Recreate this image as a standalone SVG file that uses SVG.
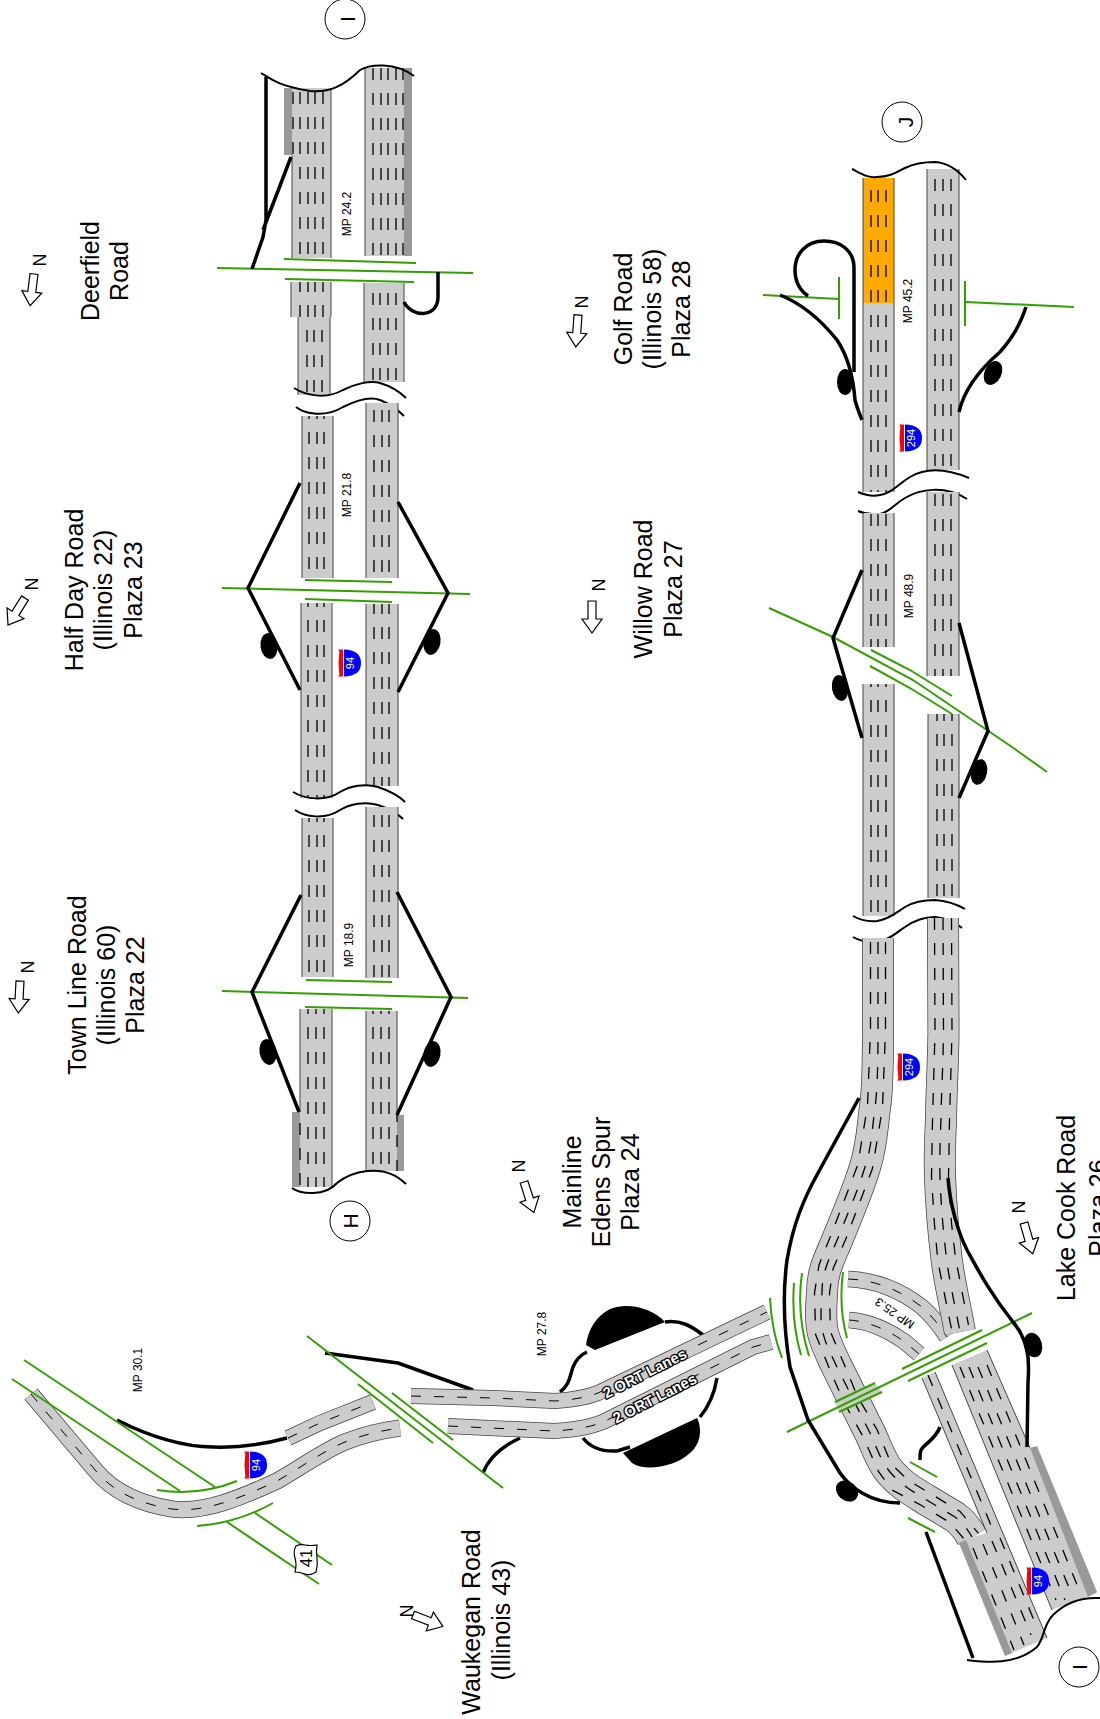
<svg xmlns="http://www.w3.org/2000/svg" width="1100" height="1719" viewBox="0 0 1100 1719">
<style>
text{font-family:"Liberation Sans",Arial,sans-serif;fill:#000}
.l{font-size:25px;text-anchor:middle}
.mp{font-size:12px;text-anchor:middle}
.n{font-size:18px;text-anchor:middle}
.c{font-size:21px;text-anchor:middle}
.s{font-size:11px;text-anchor:middle;fill:#fff}
.o{font-size:15px;font-weight:bold;fill:#fff;stroke:#000;stroke-width:2.6px;paint-order:stroke;text-anchor:middle}
.r{fill:#ccc}
.sh{fill:#999}
.e{fill:none;stroke:#444;stroke-width:1}
.d{fill:none;stroke:#000;stroke-width:1.3;stroke-dasharray:12 13}
.d2{fill:none;stroke:#000;stroke-width:1;stroke-dasharray:10 13}
.g{fill:none;stroke:#33a000;stroke-width:2}
.b{fill:none;stroke:#000;stroke-width:3.5}
.w{fill:none;stroke:#000;stroke-width:2}
.bl{fill:#000}
.a{fill:#fff;stroke:#000;stroke-width:1.2}
.ci{fill:#fff;stroke:#000;stroke-width:1}
.ro{fill:none;stroke:#444}
.rg{fill:none;stroke:#ccc}
</style>
<defs>
<g id="shield">
<path d="M0,-13.5Q17,-13 17,0Q17,13 0,13.5Z" fill="#00f"/>
<path d="M-6,-13.5H-1V13.5H-6Q-4,12 -5,8Q-6,0 -5,-8Q-4,-12 -6,-13.5Z" fill="#f00"/>
</g>
<polygon id="arrow" points="-4,0 4,0 4,18 10,18 0,32 -10,18 -4,18"/>
</defs>

<g id="deerfield">
<rect class="sh" x="284" y="88" width="8" height="67"/>
<rect class="r" x="292" y="88" width="39" height="170"/>
<rect class="r" x="291" y="282" width="40" height="35"/>
<rect class="r" x="298" y="317" width="32" height="78"/>
<rect class="r" x="365" y="68" width="39" height="188"/>
<rect class="sh" x="404" y="68" width="8" height="188"/>
<rect class="r" x="364" y="283" width="40" height="99"/>
<path class="e" d="M292,155V258M331,88V258M291,282V317M331,282V317M298,317V395M330,317V395M365,68V256M364,283V382M404,283V382"/>
<path class="d" d="M293,92V155M300,92V258M308,92V258M315,92V258M323,92V258"/>
<path class="d" d="M300,282V317M308,282V317M315,282V317M323,282V317" stroke-dashoffset="2"/>
<path class="d" d="M307,330V395M314,330V395M322,330V395"/>
<path class="d" d="M373,68V256M381,68V256M388,68V256M396,68V256M403,68V256"/>
<path class="d" d="M373,293V382M380,293V382M388,293V382M396,293V382"/>
<path class="g" d="M217,268L473,273M284,259L416,263M285,279L414,282"/>
<path class="b" d="M266,77V220L263,237L252,269M291,157L263,230M438,272V297C438,318 412,318 404,302"/>
<path class="w" d="M261,73C270,78 275,85 310,91C330,93 345,85 360,70C370,64 395,62 414,76"/>
<path class="w" d="M294,388C305,395 325,400 343,390C355,384 370,380 380,383C390,386 400,392 406,398"/>
<path class="w" d="M296,407C305,414 325,418 343,407C355,401 370,396 380,400C390,404 398,410 404,416"/>
<text class="mp" transform="translate(351,214) rotate(-90)">MP 24.2</text>
</g>

<g id="halfday">
<rect class="r" x="302" y="416" width="31" height="162"/>
<rect class="r" x="366" y="403" width="32" height="175"/>
<rect class="r" x="301" y="603" width="31" height="195"/>
<rect class="r" x="366" y="604" width="32" height="182"/>
<path class="e" d="M302,416V578M333,416V578M366,403V578M398,403V578M301,603V798M332,603V798M366,604V786M398,604V786"/>
<path class="d" d="M309,416V578M317,416V578M324,416V578" stroke-dashoffset="9"/>
<path class="d" d="M374,403V578M382,403V578M389,403V578" stroke-dashoffset="18"/>
<path class="d" d="M308,603V798M317,603V798M324,603V798" stroke-dashoffset="8"/>
<path class="d" d="M374,604V786M382,604V786M389,604V786" stroke-dashoffset="2"/>
<path class="g" d="M222,588L470,594M305,580L392,582M305,599L392,602"/>
<path class="b" d="M300,483L248,588L300,690M398,502L448,593L398,692"/>
<ellipse class="bl" cx="269" cy="646" rx="8.5" ry="13" transform="rotate(-8 269 646)"/>
<ellipse class="bl" cx="432" cy="642" rx="8.5" ry="13" transform="rotate(10 432 642)"/>
<path class="w" d="M293,792C305,799 325,802 340,792C350,786 365,783 378,787C390,791 400,797 405,802"/>
<path class="w" d="M295,810C305,817 325,820 340,810C350,804 365,801 378,805C390,809 398,814 403,819"/>
<use href="#shield" x="344" y="663"/>
<text class="s" transform="translate(354,663) rotate(-90)">94</text>
<text class="mp" transform="translate(351,495) rotate(-90)">MP 21.8</text>
</g>

<g id="townline">
<rect class="r" x="302" y="818" width="31" height="159"/>
<rect class="r" x="366" y="807" width="32" height="171"/>
<rect class="r" x="300" y="1009" width="32" height="178"/>
<rect class="sh" x="292" y="1112" width="8" height="75"/>
<rect class="r" x="366" y="1011" width="31" height="160"/>
<rect class="sh" x="397" y="1115" width="7" height="56"/>
<path class="e" d="M302,818V977M333,818V977M366,807V978M398,807V978M300,1009V1112M332,1009V1187M366,1011V1171M397,1011V1115"/>
<path class="d" d="M309,818V977M317,818V977M324,818V977" stroke-dashoffset="8"/>
<path class="d" d="M374,807V978M382,807V978M389,807V978" stroke-dashoffset="17"/>
<path class="d" d="M308,1009V1187M316,1009V1187M324,1009V1187" stroke-dashoffset="7"/>
<path class="d" d="M300,1112V1187" stroke-dashoffset="14"/>
<path class="d" d="M373,1011V1171M381,1011V1171M389,1011V1171" stroke-dashoffset="9"/>
<path class="d" d="M397,1115V1171" stroke-dashoffset="5"/>
<path class="g" d="M222,991L468,998M306,980L392,982M305,1007L392,1009"/>
<path class="b" d="M301,895L252,992L299,1112M397,892L451,997L397,1115"/>
<ellipse class="bl" cx="268" cy="1052" rx="8.5" ry="13" transform="rotate(-10 268 1052)"/>
<ellipse class="bl" cx="432" cy="1054" rx="8.5" ry="13" transform="rotate(10 432 1054)"/>
<path class="w" d="M292,1188C300,1194 325,1197 337,1183C347,1175 358,1172 367,1171C385,1169 398,1176 406,1184"/>
<text class="mp" transform="translate(353,945) rotate(-90)">MP 18.9</text>
</g>

<g id="golf">
<rect x="863" y="178" width="31" height="125" fill="#fa0"/>
<rect class="r" x="863" y="303" width="31" height="189"/>
<rect class="r" x="927" y="169" width="32" height="301"/>
<path class="e" d="M863,178V492M894,178V492M927,169V470M959,169V470"/>
<path class="d" d="M871,178V492M878,178V492M886,178V492" stroke-dashoffset="13"/>
<path class="d" d="M935,169V470M943,169V470M951,169V470" stroke-dashoffset="15"/>
<path class="g" d="M763,295L839,299M839,277V319M965,281V326M966,302L1074,307"/>
<path class="b" d="M854,372V268C854,250 840,241 824,241C806,241 795,254 795,270C795,282 801,291 808,296"/>
<path class="b" d="M780,295C805,305 825,325 837,340C847,355 853,373 855,400C857,408 860,415 862,420M1026,307C1020,325 1013,337 1000,352C985,365 965,385 959,412"/>
<ellipse class="bl" cx="845" cy="382" rx="8" ry="13"/>
<ellipse class="bl" cx="993" cy="373" rx="8.5" ry="12.5" transform="rotate(25 993 373)"/>
<path class="w" d="M852,169C862,174 868,178 877,177C890,177 897,172 905,168C915,163 925,162 935,162C948,163 958,170 966,180"/>
<path class="w" d="M858,492C865,495 872,497 880,495C892,493 897,485 910,477C925,468 945,468 969,478"/>
<path class="w" d="M858,511C865,514 872,515 880,514C890,512 893,505 905,498C920,489 945,485 967,499"/>
<use href="#shield" x="905" y="438"/>
<text class="s" transform="translate(915,438) rotate(-90)">294</text>
<text class="mp" transform="translate(912,301) rotate(-90)">MP 45.2</text>
</g>

<g id="willow">
<rect class="r" x="863" y="513" width="31" height="134"/>
<rect class="r" x="863" y="684" width="31" height="232"/>
<rect class="r" x="927" y="492" width="32" height="184"/>
<rect class="r" x="928" y="714" width="31" height="184"/>
<path class="e" d="M863,513V647M894,513V647M863,684V916M894,684V916M927,492V676M959,492V676M928,714V898M959,714V898"/>
<path class="d" d="M871,513V647M878,513V647M886,513V647" stroke-dashoffset="24"/>
<path class="d" d="M871,684V916M878,684V916M886,684V916" stroke-dashoffset="9"/>
<path class="d" d="M935,492V676M943,492V676M951,492V676" stroke-dashoffset="23"/>
<path class="d" d="M937,714V898M944,714V898M952,714V898" stroke-dashoffset="5"/>
<path class="g" d="M769,608L833,637L913,680L1012,747L1047,772M871,650L910,670L952,696M870,666L910,688L952,714"/>
<path class="b" d="M862,570L833,638L862,738M959,623L988,731L959,798"/>
<ellipse class="bl" cx="840" cy="688" rx="8" ry="13" transform="rotate(-10 840 688)"/>
<ellipse class="bl" cx="979" cy="772" rx="8" ry="13" transform="rotate(12 979 772)"/>
<path class="w" d="M853,916C860,920 868,922 877,921C890,919 897,912 905,907C915,901 925,900 935,900C948,901 958,905 965,909"/>
<path class="w" d="M853,937C860,941 868,943 877,942C890,940 897,932 905,927C915,920 925,917 935,917C948,918 956,923 962,928"/>
<text class="mp" transform="translate(913,596) rotate(-90)">MP 48.9</text>
</g>

<g id="lakecook">
<path class="ro" stroke-width="16.5" d="M848,1279C875,1280 900,1290 922,1307C930,1314 940,1326 947,1337M849,1320C865,1321 885,1328 905,1342L919,1354"/>
<path class="rg" stroke-width="15" d="M848,1279C875,1280 900,1290 922,1307C930,1314 940,1326 947,1337M849,1320C865,1321 885,1328 905,1342L919,1354"/>
<path class="d2" d="M848,1279C875,1280 900,1290 922,1307C930,1314 940,1326 947,1337M849,1320C865,1321 885,1328 905,1342L919,1354"/>
<path class="ro" stroke-width="32" d="M878,938V1030C878,1070 877,1095 875,1107C872,1130 872,1145 865,1167C858,1190 850,1208 840,1233C830,1258 822,1270 822,1293C821,1310 820,1320 823,1333C826,1345 830,1352 837,1367L870,1433C876,1445 880,1460 890,1472C900,1484 912,1491 925,1499L955,1517C962,1522 968,1530 972,1537"/>
<path class="rg" stroke-width="30.5" d="M878,938V1030C878,1070 877,1095 875,1107C872,1130 872,1145 865,1167C858,1190 850,1208 840,1233C830,1258 822,1270 822,1293C821,1310 820,1320 823,1333C826,1345 830,1352 837,1367L870,1433C876,1445 880,1460 890,1472C900,1484 912,1491 925,1499L955,1517C962,1522 968,1530 972,1537"/>
<path class="d" stroke-dashoffset="21" d="M878,938V1030C878,1070 877,1095 875,1107C872,1130 872,1145 865,1167C858,1190 850,1208 840,1233C830,1258 822,1270 822,1293C821,1310 820,1320 823,1333C826,1345 830,1352 837,1367L870,1433C876,1445 880,1460 890,1472C900,1484 912,1491 925,1499L955,1517C962,1522 968,1530 972,1537"/>
<path class="d" stroke-dashoffset="21" d="M870.5,938V1030L867.5,1106L857.7,1165L833,1230L819,1265L814.5,1293L815.6,1334.5L830,1370L844.3,1403L863,1436.5L878.6,1471.7L892,1490L920.7,1505L950,1522.6L965.6,1540.7"/>
<path class="d" stroke-dashoffset="21" d="M885.5,938V1030L882.5,1108L872.3,1169L847,1236L833,1269L829.5,1293L830.4,1331.5L844,1364L857.7,1397L877,1429.5L891.4,1464.3L908,1480L929.3,1493L960,1511.4L978.4,1533.3"/>
<polygon class="r" points="835,1402 875,1383 882,1392 839,1412"/>
<path class="ro" stroke-width="32" d="M943,918L943.5,1033C943,1070 941,1100 941,1120C940,1140 939.5,1160 940,1177C941,1205 943,1230 946.7,1260C950,1285 955,1305 960,1332"/>
<path class="rg" stroke-width="30.5" d="M943,918L943.5,1033C943,1070 941,1100 941,1120C940,1140 939.5,1160 940,1177C941,1205 943,1230 946.7,1260C950,1285 955,1305 960,1332"/>
<path class="d" d="M943,918L943.5,1033C943,1070 941,1100 941,1120C940,1140 939.5,1160 940,1177C941,1205 943,1230 946.7,1260C950,1285 955,1305 960,1332"/>
<path class="d" d="M934.5,918L935,1033L932.5,1120L931.5,1177L934.5,1225L938,1262L951.5,1329"/>
<path class="d" d="M951.5,918L952,1033L949.5,1120L948.5,1177L951.5,1223L955.5,1258L968.5,1325"/>
<polygon class="r" points="922,1378 935,1372 1047,1638 1005,1656 959,1543 972,1537 987,1533"/>
<polygon class="sh" points="959,1543 966,1540 1012,1653 1005,1656"/>
<polygon class="r" points="952,1365 987,1350 1030,1448 1097,1593 1052,1610"/>
<polygon class="sh" points="1030,1448 1037,1446 1097,1592 1088,1597"/>
<path class="e" d="M922,1378L987,1533M935,1372L1047,1638M952,1365L1052,1610M987,1350L1030,1448"/>
<path class="d" d="M928,1375L993,1530"/>
<path class="d" d="M973,1548L1014,1650M983,1544L1024,1645M992,1541L1031,1635M1000,1538L1038,1630"/>
<path class="d" d="M960,1367L1056,1600M969,1367L1065,1600M978,1367L1072,1595M987,1365L1080,1592"/>
<path class="g" d="M787,1432L1032,1313M835,1402L875,1383M839,1412L882,1392M902,1369L982,1330M908,1381L987,1343M802,1273C798,1300 801,1330 809,1356M794,1283C792,1310 795,1335 801,1355M843,1272C840,1295 842,1320 847,1338M770,1298C771,1320 775,1340 782,1358M910,1462L937,1477M908,1518L935,1532"/>
<path class="b" d="M948,1178C950,1205 958,1232 967,1250C978,1270 990,1293 1013,1322C1020,1330 1026,1342 1028,1357C1029,1370 1028,1382 1028,1382L1027,1447"/>
<path class="b" d="M859,1098L818,1173C803,1200 793,1225 787,1260C783,1290 783,1325 790,1367L808,1420L840,1473C850,1487 870,1503 900,1503"/>
<path class="b" d="M926,1532L973,1658"/>
<path class="b" d="M940,1427C935,1440 925,1443 921,1450C920,1453 920,1457 920,1460"/>
<ellipse class="bl" cx="1033" cy="1345" rx="9" ry="12.5" transform="rotate(-15 1033 1345)"/>
<ellipse class="bl" cx="847" cy="1491" rx="12" ry="9.5" transform="rotate(40 847 1491)"/>
<path class="w" d="M967,1660C985,1662 1015,1666 1037,1647C1045,1637 1043,1625 1053,1615C1065,1603 1080,1597 1100,1598"/>
<use href="#shield" x="1032" y="1581"/>
<text class="s" transform="translate(1042,1581) rotate(-90)">94</text>
<use href="#shield" x="903" y="1067"/>
<text class="s" transform="translate(913,1067) rotate(-90)">294</text>
<text class="mp" transform="translate(897,1310) rotate(215)">MP 25.3</text>
</g>

<g id="edens">
<path class="bl" d="M586,1345C588,1330 596,1316 610,1309C628,1302 652,1308 665,1322L595,1350Z"/>
<path class="bl" d="M623,1453L697,1418C703,1430 700,1445 690,1453C675,1467 645,1472 632,1463Z"/>
<path class="b" d="M560,1392C570,1385 570,1375 573,1367C576,1360 580,1355 587,1352M665,1322C680,1320 690,1325 703,1335M717,1378C715,1390 710,1405 700,1417M583,1438C590,1447 600,1452 617,1451L630,1447M325,1353L398,1363L473,1390M483,1473C490,1455 505,1445 520,1438"/>
<path class="ro" stroke-width="16" d="M411,1396L493,1398L555,1401C570,1400 585,1398 598,1393L767,1312"/>
<path class="rg" stroke-width="14.5" d="M411,1396L493,1398L555,1401C570,1400 585,1398 598,1393L767,1312"/>
<path class="d2" d="M411,1396L493,1398L555,1401C570,1400 585,1398 598,1393L767,1312"/>
<path class="ro" stroke-width="16" d="M448,1426L554,1431C570,1430 590,1428 605,1421L753,1347L771,1342"/>
<path class="rg" stroke-width="14.5" d="M448,1426L554,1431C570,1430 590,1428 605,1421L753,1347L771,1342"/>
<path class="d2" d="M448,1426L554,1431C570,1430 590,1428 605,1421L753,1347L771,1342"/>
<text class="o" transform="translate(647,1378) rotate(-27)">2 ORT Lanes</text>
<text class="o" transform="translate(657,1403) rotate(-27)">2 ORT Lanes</text>
<text class="mp" transform="translate(546,1334) rotate(-90)">MP 27.8</text>
</g>

<g id="waukegan">
<path class="ro" stroke-width="17" d="M31,1394L96,1471C112,1490 135,1503 172,1509C205,1513 240,1498 277,1481C300,1468 325,1450 345,1442C365,1434 385,1430 400,1428"/>
<path class="rg" stroke-width="15.5" d="M31,1394L96,1471C112,1490 135,1503 172,1509C205,1513 240,1498 277,1481C300,1468 325,1450 345,1442C365,1434 385,1430 400,1428"/>
<path class="d2" d="M31,1394L96,1471C112,1490 135,1503 172,1509C205,1513 240,1498 277,1481C300,1468 325,1450 345,1442C365,1434 385,1430 400,1428"/>
<path class="ro" stroke-width="16" d="M288,1438L320,1423L373,1402"/>
<path class="rg" stroke-width="14.5" d="M288,1438L320,1423L373,1402"/>
<path class="d2" d="M288,1438L320,1423L373,1402"/>
<path class="b" d="M117,1420C150,1437 185,1447 213,1447C240,1448 265,1444 287,1438"/>
<path class="g" d="M24,1360L215,1487M12,1379L180,1491M157,1490C183,1494 210,1492 237,1481M227,1522L319,1584M255,1513L332,1565M197,1526C225,1524 250,1516 273,1503M307,1336L503,1488M358,1384L433,1443M392,1393L453,1440"/>
<use href="#shield" x="250" y="1465"/>
<text class="s" transform="translate(260,1465) rotate(-90)">94</text>
<path d="M296,1546Q300,1544 305,1545T317,1545Q316,1551 317,1558T316,1572Q310,1576 305,1574T295,1572Q297,1565 295,1558T296,1546Z" fill="#fff" stroke="#000" stroke-width="1.2"/>
<text font-size="16" text-anchor="middle" transform="translate(312,1558) rotate(-90)">41</text>
<text class="mp" transform="translate(142,1370) rotate(-90)">MP 30.1</text>
</g>

<g id="labels">
<text class="l" transform="translate(99,271) rotate(-90)">Deerfield</text>
<text class="l" transform="translate(128,271) rotate(-90)">Road</text>
<text class="l" transform="translate(83,590) rotate(-90)">Half Day Road</text>
<text class="l" transform="translate(112,590) rotate(-90)">(Illinois 22)</text>
<text class="l" transform="translate(142,590) rotate(-90)">Plaza 23</text>
<text class="l" transform="translate(86,985) rotate(-90)">Town Line Road</text>
<text class="l" transform="translate(115,985) rotate(-90)">(Illinois 60)</text>
<text class="l" transform="translate(144,985) rotate(-90)">Plaza 22</text>
<text class="l" transform="translate(581,1182) rotate(-90)">Mainline</text>
<text class="l" transform="translate(610,1182) rotate(-90)">Edens Spur</text>
<text class="l" transform="translate(639,1182) rotate(-90)">Plaza 24</text>
<text class="l" transform="translate(632,309) rotate(-90)">Golf Road</text>
<text class="l" transform="translate(661,309) rotate(-90)">(Illinois 58)</text>
<text class="l" transform="translate(690,309) rotate(-90)">Plaza 28</text>
<text class="l" transform="translate(652,589) rotate(-90)">Willow Road</text>
<text class="l" transform="translate(682,589) rotate(-90)">Plaza 27</text>
<text class="l" transform="translate(1075,1208) rotate(-90)">Lake Cook Road</text>
<text class="l" transform="translate(1107,1208) rotate(-90)">Plaza 26</text>
<text class="l" transform="translate(480,1622) rotate(-90)">Waukegan Road</text>
<text class="l" transform="translate(510,1620) rotate(-90)">(Illinois 43)</text>
</g>

<g id="north">
<text class="n" transform="translate(46,260) rotate(-90)">N</text><use href="#arrow" class="a" transform="translate(34,274) rotate(7)"/>
<text class="n" transform="translate(38,584) rotate(-90)">N</text><use href="#arrow" class="a" transform="translate(25,598) rotate(32)"/>
<text class="n" transform="translate(34,967) rotate(-90)">N</text><use href="#arrow" class="a" transform="translate(20,981) rotate(3)"/>
<text class="n" transform="translate(525,1166) rotate(-90)">N</text><use href="#arrow" class="a" transform="translate(524,1182) rotate(-18)"/>
<text class="n" transform="translate(588,302) rotate(-90)">N</text><use href="#arrow" class="a" transform="translate(578,315) rotate(4)"/>
<text class="n" transform="translate(605,585) rotate(-90)">N</text><use href="#arrow" class="a" transform="translate(592,601)"/>
<text class="n" transform="translate(1025,1207) rotate(-90)">N</text><use href="#arrow" class="a" transform="translate(1024,1223) rotate(-16)"/>
<text class="n" transform="translate(413,1611) rotate(-90)">N</text><use href="#arrow" class="a" transform="translate(413,1615) rotate(-69)"/>
</g>

<g id="match-i-top"><circle class="ci" cx="345" cy="19" r="20"/><text class="c" transform="translate(355,19) rotate(-90)">I</text></g>
<g id="match-h"><circle class="ci" cx="350" cy="1221" r="20"/><text class="c" transform="translate(358,1221) rotate(-90)">H</text></g>
<g id="match-j"><circle class="ci" cx="902" cy="122" r="20"/><text class="c" transform="translate(913,122) rotate(-90)">J</text></g>
<g id="match-i-bottom"><circle class="ci" cx="1079" cy="1667" r="20"/><text class="c" transform="translate(1087,1667) rotate(-90)">I</text></g>
</svg>
